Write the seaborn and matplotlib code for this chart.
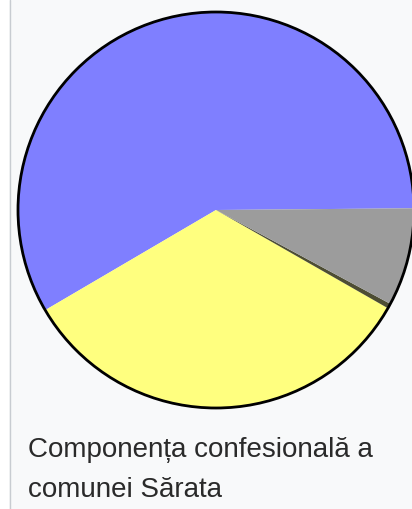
import numpy as np
import matplotlib
matplotlib.use("Agg")
import matplotlib.pyplot as plt
import seaborn as sns
from matplotlib.patches import Circle

# Componența confesională (procente)
religii = ["Ortodocși", "Penticostali", "Altă religie", "Necunoscută"]
procente = [58.3, 33.3, 0.4, 8.0]
culori = ["#7f7fff", "#ffff7f", "#4d4d33", "#9c9c9c"]
legenda = ["Componența confesională a", "comunei Sărata"]

sns.set_style("white")
plt.rcParams["font.family"] = ["Liberation Sans", "DejaVu Sans"]

W, H, DPI = 412, 509, 100
fig = plt.figure(figsize=(W / DPI, H / DPI), dpi=DPI)
fig.patch.set_facecolor("#f8f9fa")

ax = fig.add_axes([0, 0, 1, 1])
ax.set_facecolor("none")
# centrul plăcintei la (216, 210) px, raza 198 px
cx, cy, r = 216, 210, 198

ax.pie(procente, colors=culori, startangle=0.5, counterclock=True,
       radius=1, center=(0, 0), wedgeprops=dict(linewidth=0))
ax.set_xlim(-cx / r, (W - cx) / r)
ax.set_ylim(-(H - cy) / r, cy / r)
ax.set_aspect("auto")
ax.axis("off")
ax.add_patch(Circle((0, 0), 1, fill=False, edgecolor="black", linewidth=2.0))

# marginea stângă a casetei
fig.add_artist(plt.Rectangle((0, 0), 9 / W, 1, transform=fig.transFigure,
                             facecolor="white", edgecolor="none"))
fig.add_artist(plt.Line2D([9.5 / W, 9.5 / W], [0, 1], transform=fig.transFigure,
                          color="#c8ccd1", linewidth=1))

for rand, baza in zip(legenda, [457, 497]):
    fig.text(28 / W, 1 - baza / H, rand, ha="left", va="baseline",
             fontsize=20, color="#2a2a2a")

fig.savefig("out.png", dpi=DPI, facecolor=fig.get_facecolor())
